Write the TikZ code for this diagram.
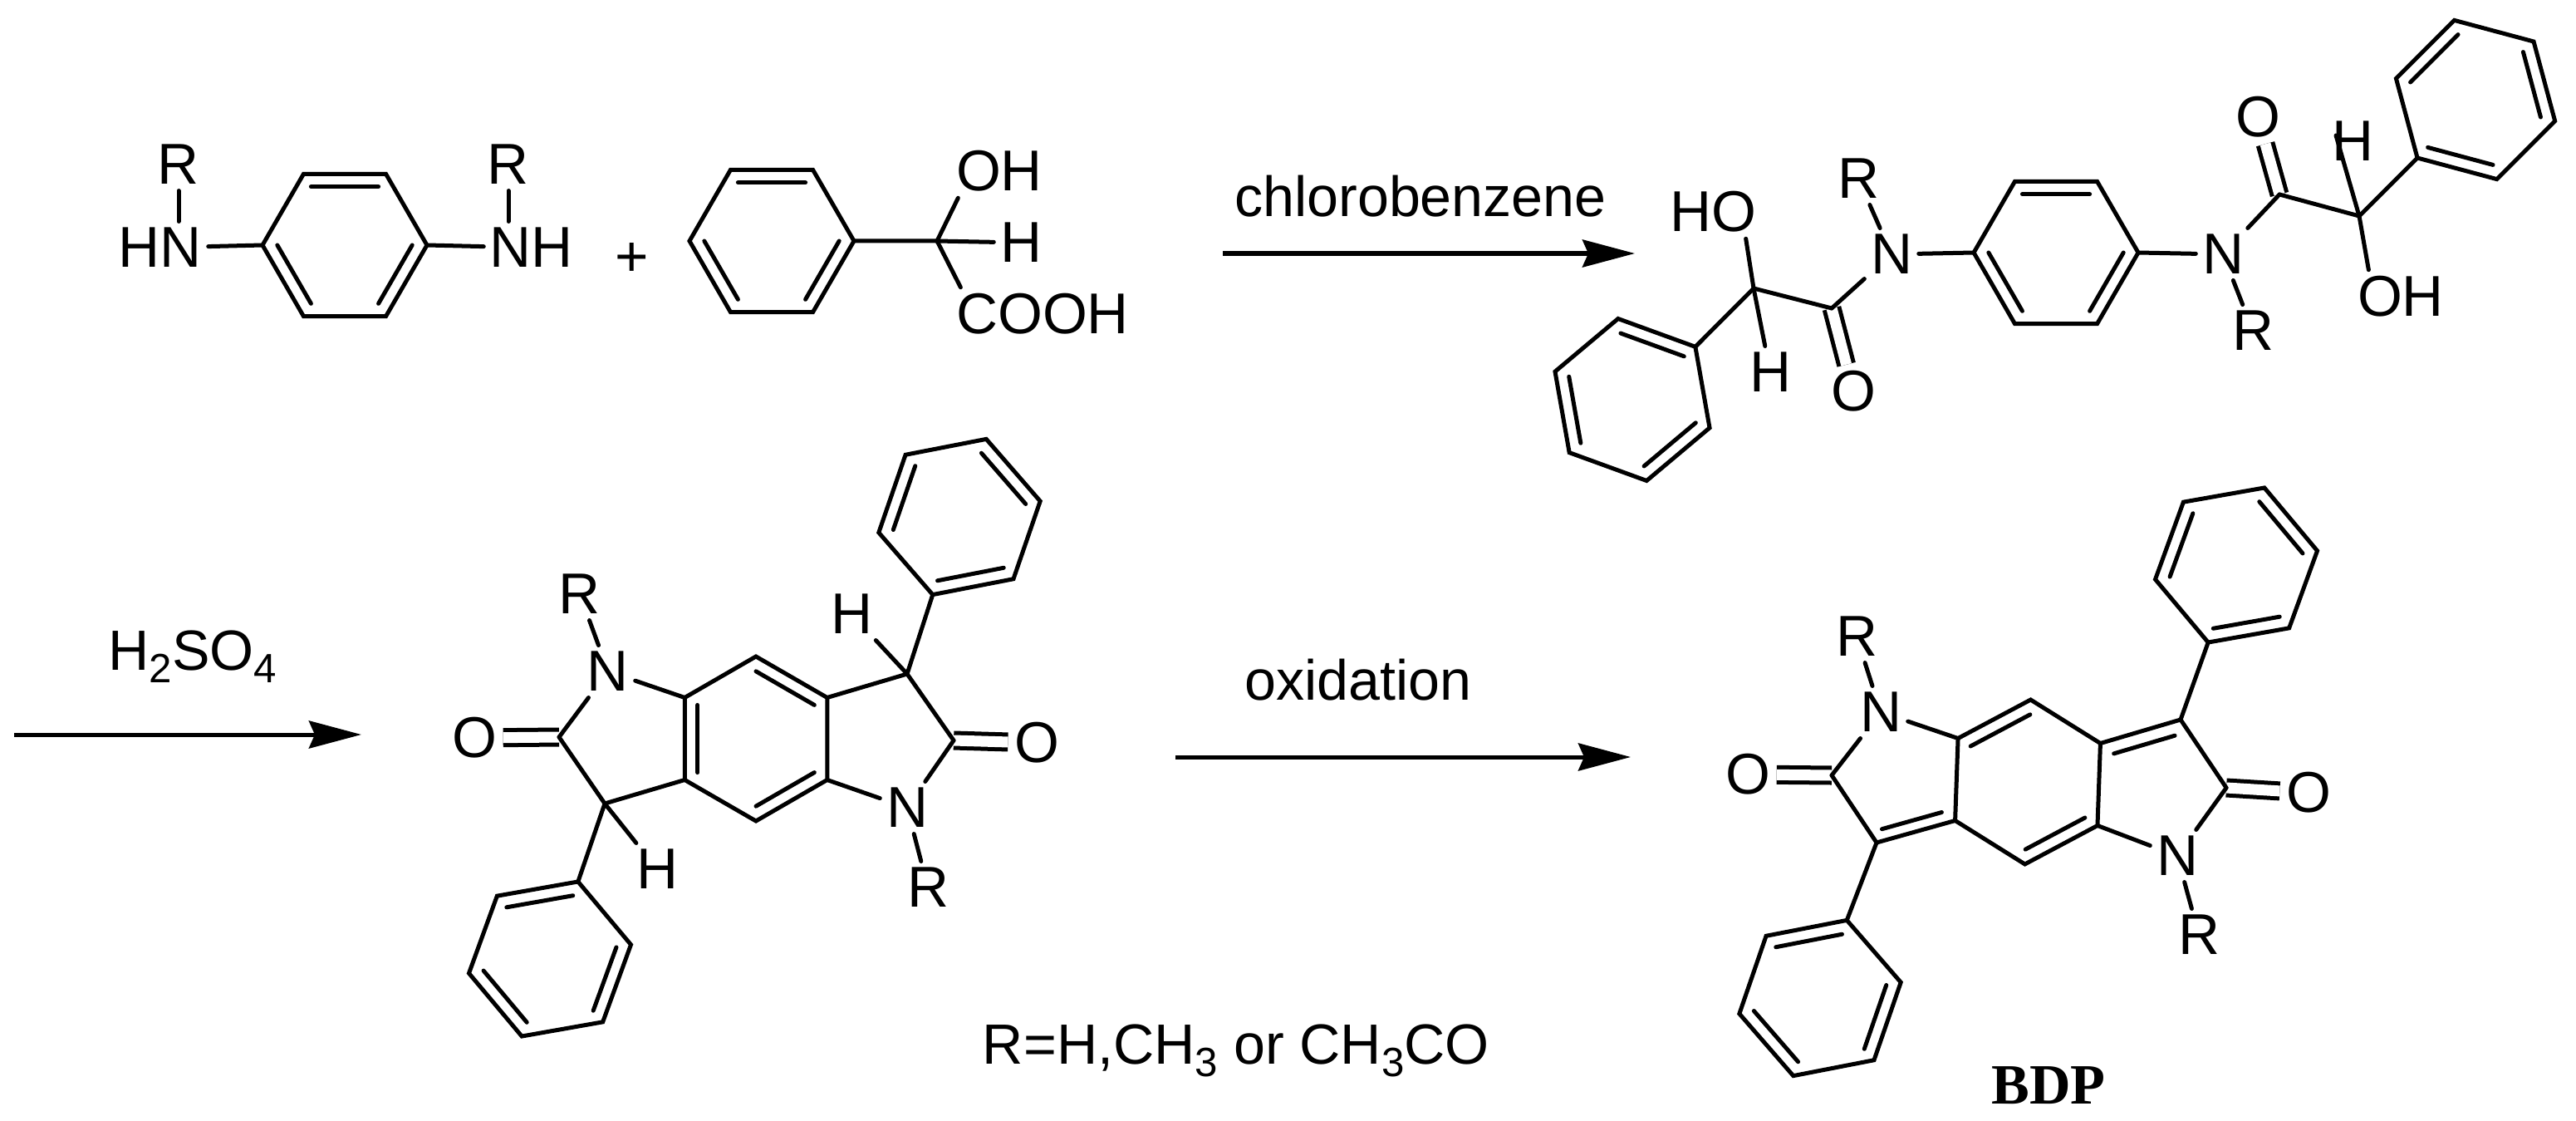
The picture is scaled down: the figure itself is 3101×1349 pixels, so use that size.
\documentclass[tikz,border=0pt]{standalone}
\usepackage{fontspec}
\setmainfont{Liberation Sans}
\newfontfamily\labelserif{Liberation Serif}
\usetikzlibrary{arrows.meta, calc}
\tikzset{
  atom/.style={inner sep=0.07cm, font=\fontsize{19.7}{24}\selectfont},
  caption/.style={inner sep=0pt, font=\fontsize{19.4}{24}\selectfont},
  bond/.style={line width=0.05cm, line cap=round},
  double bond/.style={double, double distance=0.13cm, line width=0.05cm},
  reaction/.style={line width=0.05cm, -{Stealth[length=0.63cm, width=0.33cm, inset=0.07cm]}}
}
% hexagon: name, centre x, centre y, angle of first corner
\newcommand{\hexring}[4]{
  \coordinate (#1-c) at (#2,#3);
  \foreach \idx in {1,...,6} {
    \coordinate (#1-\idx) at ({#2+99*cos(#4+60*(\idx-1))}, {#3+99*sin(#4+60*(\idx-1))});
  }
  \draw[bond] (#1-1) -- (#1-2) -- (#1-3) -- (#1-4) -- (#1-5) -- (#1-6) -- cycle;
}
% inner line of a double bond in a ring
\newcommand{\innerline}[4][.18]{
  \draw[bond] ($(#2)!#1!(#4)$) -- ($(#3)!#1!(#4)$);
}
\newcommand{\ringdoubles}[2]{
  \foreach \i/\j in {#2} {
    \innerline{#1-\i}{#1-\j}{#1-c}
  }
}
\newcommand{\lowdigit}[1]{\raisebox{-0.22em}{\fontsize{14}{16}\selectfont #1}}

\begin{document}
\begin{tikzpicture}[x=0.01cm, y=-0.01cm]
  \useasboundingbox (0,0) rectangle (3101,1349);

  % --- Diamine ---
  \hexring{A}{415}{295}{0}
  \ringdoubles{A}{1/2,3/4,5/6}
  \node[atom] (AN1) at (193,298) {HN};
  \node[atom] (AN2) at (640,298) {NH};
  \node[atom] (AR1) at (215,198) {R};
  \node[atom] (AR2) at (612,198) {R};
  \draw[bond] (AR1) -- (AR1 |- AN1.north);
  \draw[bond] (AR2) -- (AR2 |- AN2.north);
  \draw[bond] (AN1) -- (A-4);
  \draw[bond] (A-1) -- (AN2);
  \node[atom] (plus) at (761,313) {+};

  % --- Mandelic acid ---
  \hexring{B}{929}{290}{0}
  \ringdoubles{B}{1/2,3/4,5/6}
  \coordinate (BC) at (1128,290);
  \node[atom] (BOH) at (1203,206) {OH};
  \node[atom] (BH) at (1229,292) {H};
  \node[atom] (BCOOH) at (1255,378) {COOH};
  \draw[bond] (B-1) -- (BC) -- (BH);
  \draw[bond] (BC) -- ([xshift=0.1cm]BOH.south west);
  \draw[bond] (BC) -- ([xshift=0.13cm]BCOOH.north west);

  % --- First step ---
  \coordinate (arrow1a) at (1472,305);
  \coordinate (arrow1b) at (1968,305);
  \draw[reaction] (arrow1a) -- (arrow1b);
  \node[caption] (chloro) at (1710,236.5) {chlorobenzene};

  % --- Diamide ---
  \hexring{C}{2475}{304}{0}
  \ringdoubles{C}{1/2,3/4,5/6}
  \hexring{P1}{1965}{481}{-40}
  \ringdoubles{P1}{2/3,4/5,6/1}
  \hexring{P2}{2980}{120}{135}
  \ringdoubles{P2}{2/3,4/5,6/1}
  \node[atom] (CN1) at (2277,306) {N};
  \node[atom] (CN2) at (2676,306) {N};
  \node[atom] (CR1) at (2237,215) {R};
  \node[atom] (CR2) at (2712,398) {R};
  \node[atom] (CO1) at (2231,471) {O};
  \node[atom] (CO2) at (2718,141) {O};
  \node[atom] (CHO) at (2062,255) {HO};
  \node[atom] (COH) at (2890,357) {OH};
  \node[atom] (CH1) at (2131,448) {H};
  \node[atom] (CH2) at (2832,170) {H};
  \coordinate (CC1) at (2205,371);
  \coordinate (CC2) at (2744,234);
  \coordinate (CS1) at (2111,347);
  \coordinate (CS2) at (2840,260);
  \coordinate (CH2end) at (2812,163);
  \draw[double bond] (CO1) -- (CC1);
  \draw[double bond] (CO2) -- (CC2);
  \foreach \from/\to in {CN1/C-4, C-1/CN2, CR1/CN1, CN2/CR2, CN1/CC1, CN2/CC2,
                         CC1/CS1, CC2/CS2, CS1/P1-1, CS2/P2-1, CS1/CH1, CS2/CH2end} {
    \draw[bond] (\from) -- (\to);
  }
  \draw[bond] (CS1) -- ([xshift=-0.2cm]CHO.south east);
  \draw[bond] (CS2) -- ([xshift=0.21cm]COH.north west);

  % --- Second step ---
  \coordinate (arrow2a) at (17,884);
  \coordinate (arrow2b) at (435,884);
  \draw[reaction] (arrow2a) -- (arrow2b);
  \node[caption] (acid) at (232,790) {H\lowdigit{2}SO\lowdigit{4}};

  % --- Fused lactam ---
  \hexring{D}{910}{889}{-90}
  \ringdoubles{D}{1/2,3/4,5/6}
  \hexring{P3}{1155}{622}{109}
  \ringdoubles{P3}{2/3,4/5,6/1}
  \hexring{P4}{662}{1154}{-70}
  \ringdoubles{P4}{2/3,4/5,6/1}
  \node[atom] (DN1) at (732,808) {N};
  \node[atom] (DN2) at (1092,972) {N};
  \node[atom] (DR1) at (698,715) {R};
  \node[atom] (DR2) at (1117,1068) {R};
  \node[atom] (DO1) at (571,888) {O};
  \node[atom] (DO2) at (1248,894) {O};
  \node[atom] (DH1) at (1025,739) {H};
  \node[atom] (DH2) at (791,1046) {H};
  \coordinate (DC1) at (673,887);
  \coordinate (DC2) at (1148,891);
  \coordinate (DS1) at (728,967);
  \coordinate (DS2) at (1092,811);
  \draw[double bond] (DO1) -- (DC1);
  \draw[double bond] (DO2) -- (DC2);
  \foreach \from/\to in {D-6/DN1, DN1/DC1, DC1/DS1, DS1/D-5, D-2/DS2, DS2/DC2, DC2/DN2, DN2/D-3,
                         DR1/DN1, DN2/DR2, DS1/P4-1, DS2/P3-1, DS1/DH2, DS2/DH1} {
    \draw[bond] (\from) -- (\to);
  }

  % --- Third step ---
  \coordinate (arrow3a) at (1415,911);
  \coordinate (arrow3b) at (1963,911);
  \draw[reaction] (arrow3a) -- (arrow3b);
  \node[caption] (oxid) at (1635,818.5) {oxidation};
  \node[caption] (legend) at (1488,1264.5) {R=H,CH\lowdigit{3} or CH\lowdigit{3}CO};

  % --- BDP ---
  \hexring{E}{2441}{941}{-88}
  \ringdoubles{E}{3/4,6/1}
  \hexring{P5}{2692}{680}{110}
  \ringdoubles{P5}{2/3,4/5,6/1}
  \hexring{P6}{2191}{1201}{-71}
  \ringdoubles{P6}{2/3,4/5,6/1}
  \node[atom] (EN1) at (2264,857) {N};
  \node[atom] (EN2) at (2621,1030) {N};
  \node[atom] (ER1) at (2235,766) {R};
  \node[atom] (ER2) at (2647,1125) {R};
  \node[atom] (EO1) at (2104,932) {O};
  \node[atom] (EO2) at (2779,954) {O};
  \coordinate (EC1) at (2205,933);
  \coordinate (EC2) at (2680,948);
  \coordinate (ES1) at (2259,1014);
  \coordinate (ES2) at (2625,866);
  \coordinate (Ecl) at (2286,946);
  \coordinate (Ecr) at (2596,946);
  \draw[double bond] (EO1) -- (EC1);
  \draw[double bond] (EO2) -- (EC2);
  \foreach \from/\to in {E-6/EN1, EN1/EC1, EC1/ES1, ES1/E-5, E-2/ES2, ES2/EC2, EC2/EN2, EN2/E-3,
                         ER1/EN1, EN2/ER2, ES1/P6-1, ES2/P5-1} {
    \draw[bond] (\from) -- (\to);
  }
  \innerline[.24]{E-2}{ES2}{Ecr}
  \innerline[.24]{E-5}{ES1}{Ecl}
  \node[inner sep=0pt, font=\labelserif\bfseries\fontsize{19.5}{24}\selectfont] (bdp) at (2466,1306) {BDP};
\end{tikzpicture}
\end{document}
